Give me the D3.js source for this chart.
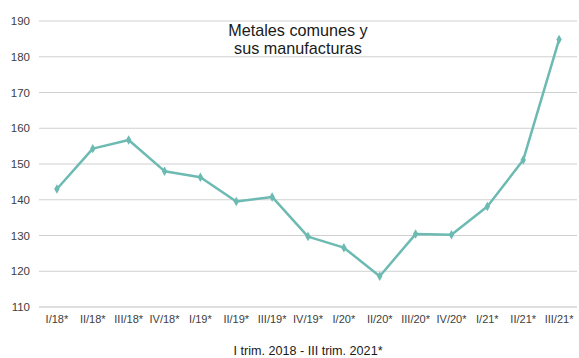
<!DOCTYPE html>
<html>
<head>
<meta charset="utf-8">
<script src="https://cdn.jsdelivr.net/npm/d3@7"></script>
<style>
  html, body { margin: 0; padding: 0; background: #fff; }
  svg { display: block; font-family: "Liberation Sans", Arial, sans-serif; }
</style>
</head>
<body>
<svg id="chart" width="579" height="358"></svg>
<script>
// Quarterly index, metals and their manufactures
const quarters = ["I/18*", "II/18*", "III/18*", "IV/18*", "I/19*", "II/19*", "III/19*", "IV/19*",
                  "I/20*", "II/20*", "III/20*", "IV/20*", "I/21*", "II/21*", "III/21*"];
const indexValues = [143.0, 154.3, 156.7, 148.0, 146.3, 139.5, 140.8, 129.7,
                     126.6, 118.6, 130.4, 130.2, 138.1, 151.1, 184.8];
const yTicks = [110, 120, 130, 140, 150, 160, 170, 180, 190];
const titleLines = ["Metales comunes y", "sus manufacturas"];
const xTitle = "I trim. 2018 - III trim. 2021*";

const svg = d3.select("#chart");
const plotLeft = 39, plotRight = 577, plotTop = 21, plotBottom = 307;

const x = d3.scaleBand().domain(quarters).range([plotLeft, plotRight]);
const y = d3.scaleLinear().domain([110, 190]).range([plotBottom, plotTop]);

// Horizontal gridlines
svg.append("g")
  .selectAll("line")
  .data(yTicks)
  .join("line")
  .attr("x1", plotLeft).attr("x2", plotRight)
  .attr("y1", d => y(d)).attr("y2", d => y(d))
  .attr("stroke", d => d === 110 ? "#bfbfbf" : "#d0d0d0")
  .attr("stroke-width", 1);

// Y axis labels
const yAxis = d3.axisLeft(y).tickValues(yTicks).tickSize(0).tickPadding(0);
const gy = svg.append("g").attr("transform", `translate(${plotLeft - 9},0)`).call(yAxis);
gy.select(".domain").remove();
gy.selectAll("text").attr("font-size", 11.5).attr("fill", "#404040")
  .attr("font-family", "Liberation Sans, Arial, sans-serif");

// X axis labels
const xAxis = d3.axisBottom(x).tickSize(0).tickPadding(0);
const gx = svg.append("g").attr("transform", `translate(0,${plotBottom + 8})`).call(xAxis);
gx.select(".domain").remove();
gx.selectAll("text").attr("font-size", 11).attr("fill", "#404040")
  .attr("font-family", "Liberation Sans, Arial, sans-serif");

// Series line
const cx = d => x(d) + x.bandwidth() / 2;
const line = d3.line().x((d, i) => cx(quarters[i])).y(d => y(d));
svg.append("path")
  .datum(indexValues)
  .attr("d", line)
  .attr("fill", "none")
  .attr("stroke", "#6cbab2")
  .attr("stroke-width", 2.5)
  .attr("stroke-linejoin", "round");

// Diamond markers
svg.append("g")
  .selectAll("path")
  .data(indexValues)
  .join("path")
  .attr("d", d3.symbol().type(d3.symbolDiamond).size(26))
  .attr("transform", (d, i) => `translate(${cx(quarters[i])},${y(d)})`)
  .attr("fill", "#6cbab2");

// Chart title
svg.append("text")
  .attr("x", 298).attr("y", 36)
  .attr("text-anchor", "middle")
  .attr("font-size", 16.2)
  .attr("fill", "#1a1a1a")
  .selectAll("tspan")
  .data(titleLines)
  .join("tspan")
  .attr("x", 298)
  .attr("dy", (d, i) => i === 0 ? 0 : 17.5)
  .text(d => d);

// X axis title
svg.append("text")
  .attr("x", 308).attr("y", 355)
  .attr("text-anchor", "middle")
  .attr("font-size", 12.6)
  .attr("fill", "#1a1a1a")
  .text(xTitle);
</script>
</body>
</html>
